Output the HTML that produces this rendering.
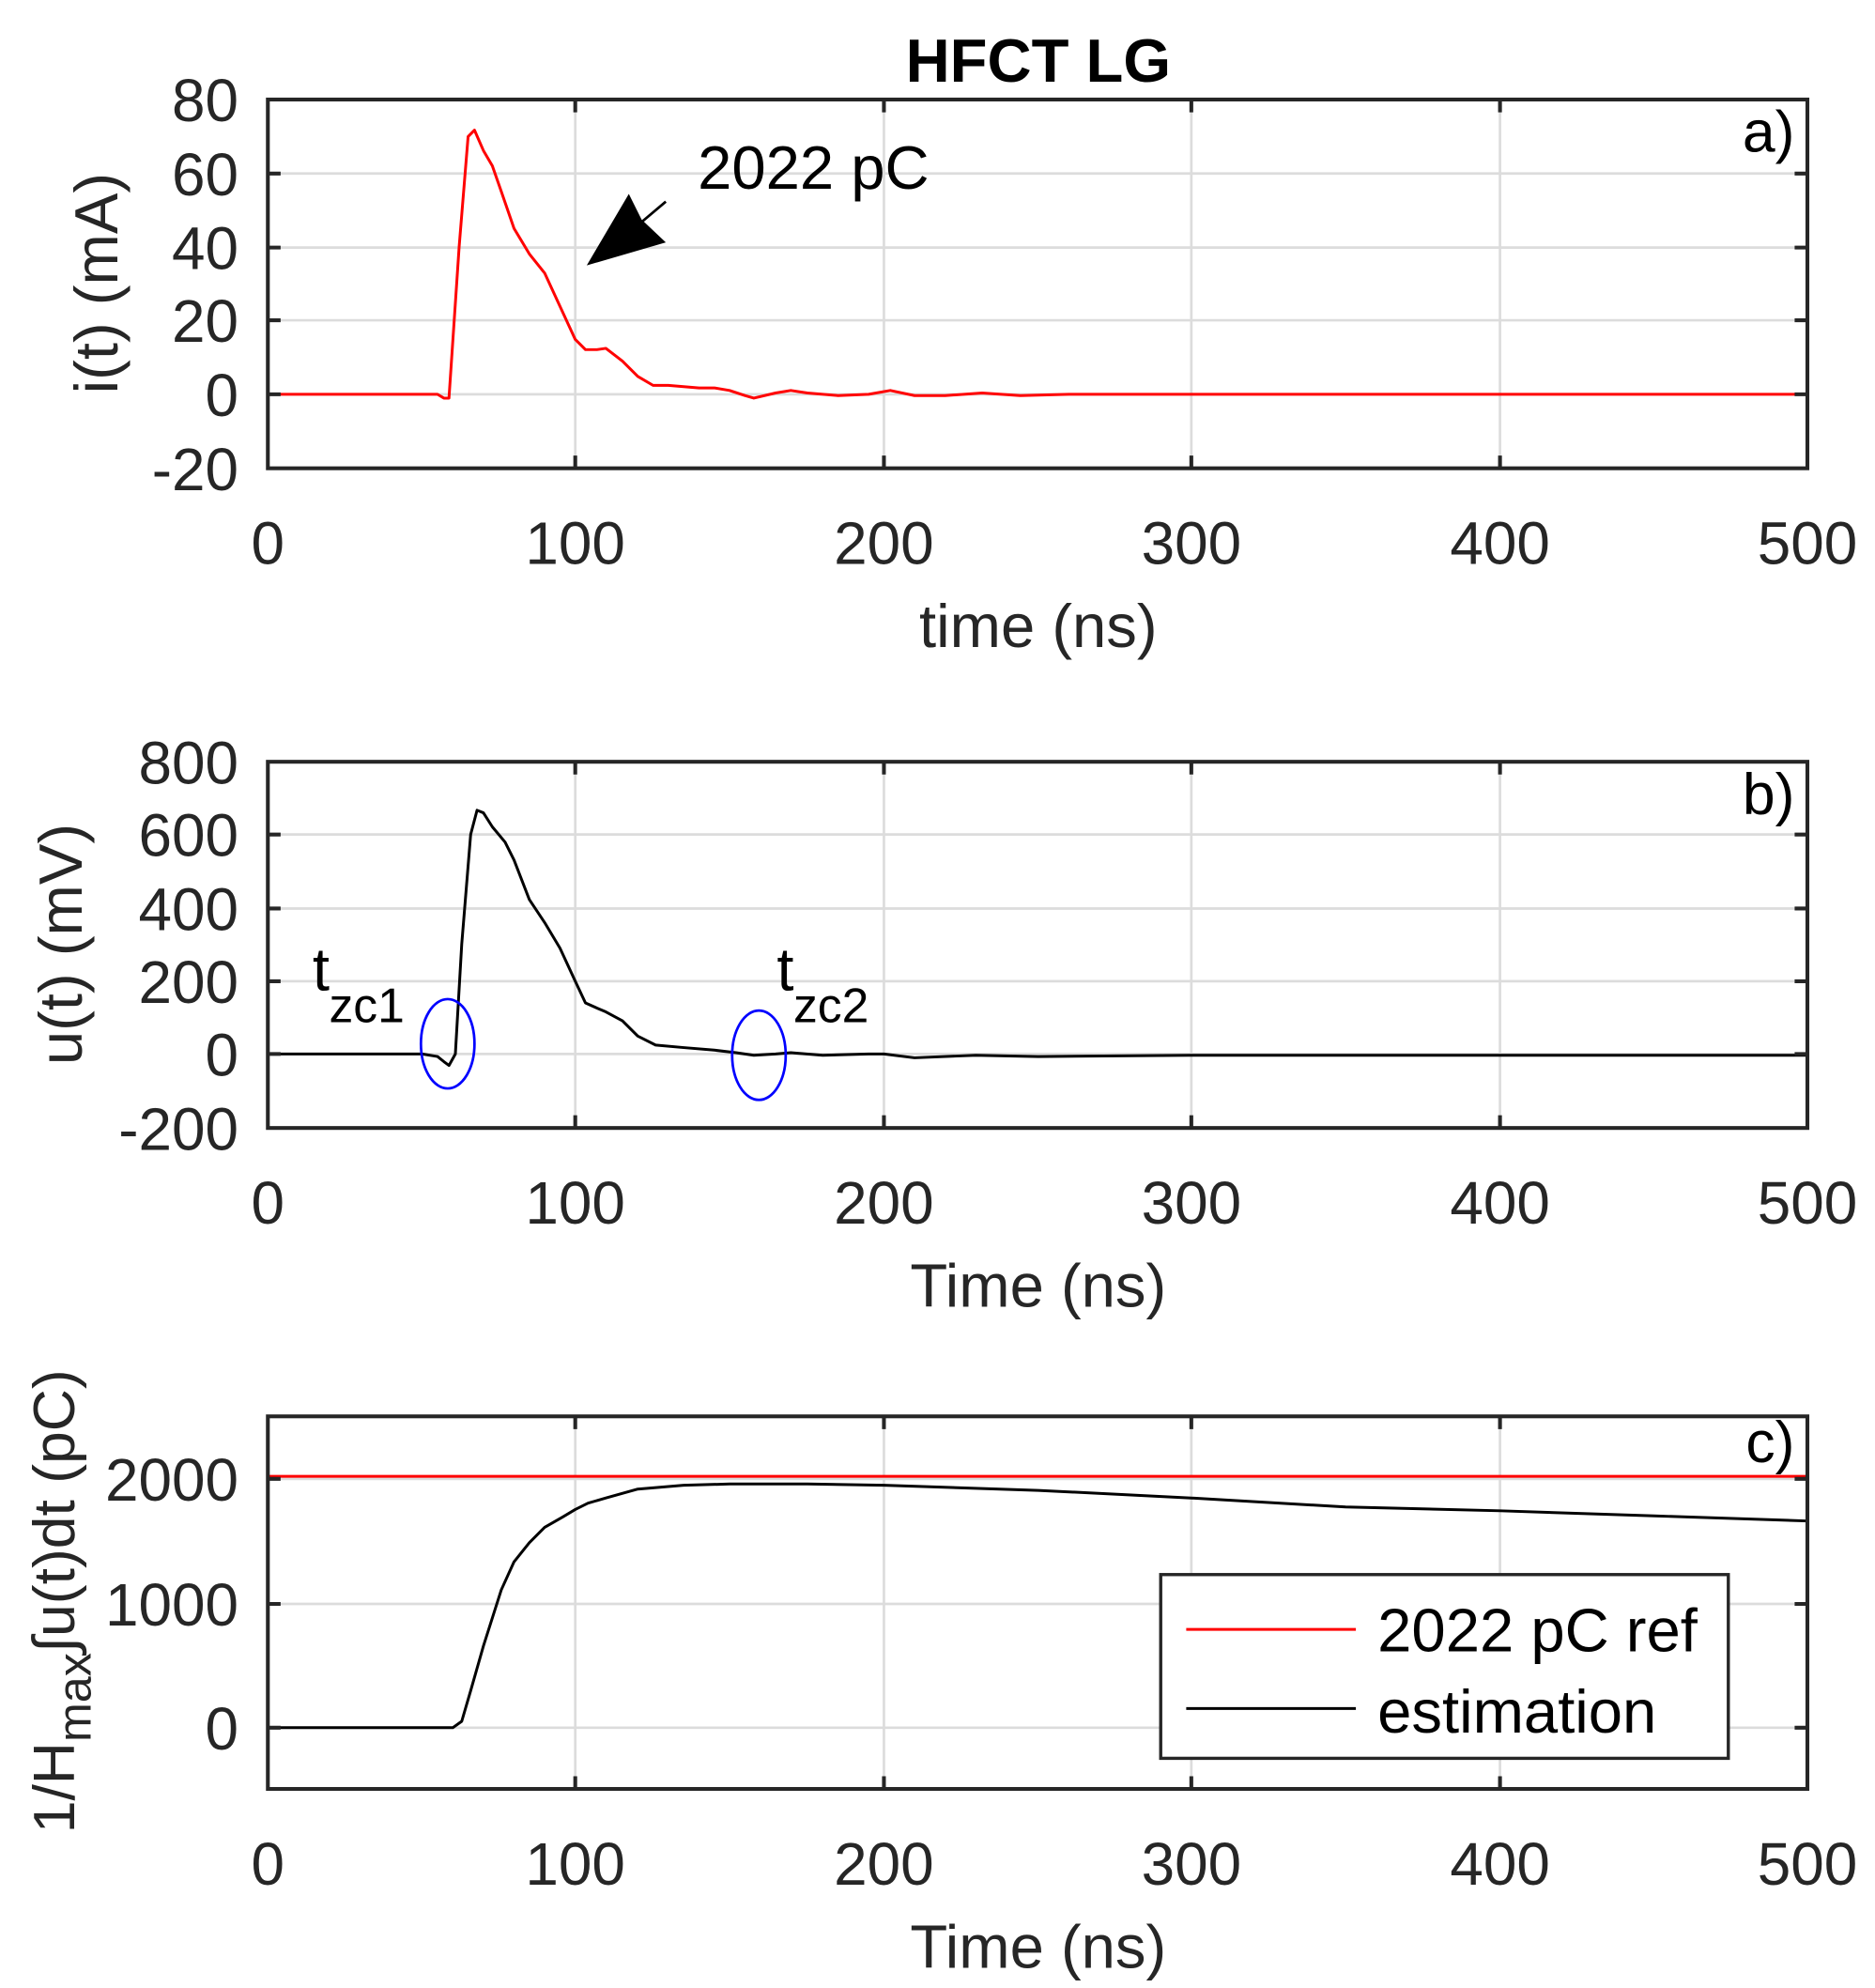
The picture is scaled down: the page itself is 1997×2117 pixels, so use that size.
<!DOCTYPE html>
<html><head><style>html,body{margin:0;padding:0;background:#fff}svg{display:block}</style></head>
<body>
<svg width="1997" height="2117" viewBox="0 0 1470 1558" preserveAspectRatio="none" xmlns="http://www.w3.org/2000/svg" font-family="Liberation Sans, Arial, sans-serif">
<rect width="1470" height="1558" fill="#fff"/>
<text x="814" y="64" font-size="48" font-weight="bold" text-anchor="middle">HFCT LG</text>

<!-- Plot a -->
<g stroke="#dcdcdc" stroke-width="2">
<line x1="451" y1="78" x2="451" y2="367"/><line x1="693" y1="78" x2="693" y2="367"/><line x1="934" y1="78" x2="934" y2="367"/><line x1="1176" y1="78" x2="1176" y2="367"/>
<line x1="210" y1="136" x2="1417" y2="136"/><line x1="210" y1="194" x2="1417" y2="194"/><line x1="210" y1="251" x2="1417" y2="251"/><line x1="210" y1="309" x2="1417" y2="309"/>
</g>
<polyline fill="none" stroke="#ff0000" stroke-width="2.2" stroke-linejoin="round" points="210,309 343,309 348,312 352,312 360,193 367,107 372,102 379,118 386,130 393,150 403,179 415,199 427,214 439,240 451,266 459,274 468,274 475,273 488,283 500,295 512,302 524,302 536,303 548,304 560,304 572,306 584,310 591,312 608,308 620,306 633,308 657,310 681,309 698,306 717,310 741,310 770,308 800,310 838,309 934,309 1417,309"/>
<g stroke="#262626" stroke-width="3" fill="none">
<rect x="210" y="78" width="1207" height="289"/>
<path d="M451,78v10M693,78v10M934,78v10M1176,78v10M451,367v-10M693,367v-10M934,367v-10M1176,367v-10M210,136h10M210,194h10M210,251h10M210,309h10M1417,136h-10M1417,194h-10M1417,251h-10M1417,309h-10"/>
</g>
<g font-size="47" text-anchor="end" fill="#262626">
<text x="187" y="95">80</text><text x="187" y="153">60</text><text x="187" y="211">40</text><text x="187" y="268">20</text><text x="187" y="326">0</text><text x="187" y="384">-20</text>
</g>
<g font-size="47" text-anchor="middle" fill="#262626">
<text x="210" y="442">0</text><text x="451" y="442">100</text><text x="693" y="442">200</text><text x="934" y="442">300</text><text x="1176" y="442">400</text><text x="1417" y="442">500</text>
</g>
<text x="814" y="507" font-size="48" text-anchor="middle" fill="#262626">time (ns)</text>
<text transform="translate(92,222) rotate(-90)" font-size="48" text-anchor="middle" fill="#262626">i(t) (mA)</text>
<text x="1407" y="119" font-size="46" text-anchor="end">a)</text>
<text x="547" y="148" font-size="48">2022 pC</text>
<line x1="522" y1="158" x2="490" y2="185" stroke="#000" stroke-width="2"/>
<polygon points="460,208 493,152 503,172 522,190" fill="#000"/>

<!-- Plot b -->
<g stroke="#dcdcdc" stroke-width="2">
<line x1="451" y1="597" x2="451" y2="884"/><line x1="693" y1="597" x2="693" y2="884"/><line x1="934" y1="597" x2="934" y2="884"/><line x1="1176" y1="597" x2="1176" y2="884"/>
<line x1="210" y1="654" x2="1417" y2="654"/><line x1="210" y1="712" x2="1417" y2="712"/><line x1="210" y1="769" x2="1417" y2="769"/><line x1="210" y1="826" x2="1417" y2="826"/>
</g>
<polyline fill="none" stroke="#000" stroke-width="2.2" stroke-linejoin="round" points="210,826 331,826 343,828 348,832 352,835 357,826 362,740 369,654 374,635 379,637 386,648 396,660 403,674 415,705 427,723 439,743 451,769 459,786 468,790 475,793 488,800 500,812 514,819 536,821 560,823 577,825 591,827 608,826 620,825 645,827 681,826 693,826 717,829 765,827 814,828 934,827 1417,827"/>
<g stroke="#262626" stroke-width="3" fill="none">
<rect x="210" y="597" width="1207" height="287"/>
<path d="M451,597v10M693,597v10M934,597v10M1176,597v10M451,884v-10M693,884v-10M934,884v-10M1176,884v-10M210,654h10M210,712h10M210,769h10M210,826h10M1417,654h-10M1417,712h-10M1417,769h-10M1417,826h-10"/>
</g>
<g font-size="47" text-anchor="end" fill="#262626">
<text x="187" y="614">800</text><text x="187" y="671">600</text><text x="187" y="729">400</text><text x="187" y="786">200</text><text x="187" y="843">0</text><text x="187" y="901">-200</text>
</g>
<g font-size="47" text-anchor="middle" fill="#262626">
<text x="210" y="959">0</text><text x="451" y="959">100</text><text x="693" y="959">200</text><text x="934" y="959">300</text><text x="1176" y="959">400</text><text x="1417" y="959">500</text>
</g>
<text x="814" y="1024" font-size="48" text-anchor="middle" fill="#262626">Time (ns)</text>
<text transform="translate(64,740) rotate(-90)" font-size="48" text-anchor="middle" fill="#262626">u(t) (mV)</text>
<text x="1407" y="638" font-size="46" text-anchor="end">b)</text>
<ellipse cx="351" cy="818" rx="21" ry="35" fill="none" stroke="#0000ff" stroke-width="2"/>
<ellipse cx="595" cy="827" rx="21" ry="35" fill="none" stroke="#0000ff" stroke-width="2"/>
<text x="245" y="776" font-size="48">t</text><text x="258" y="801" font-size="38">zc1</text>
<text x="609" y="776" font-size="48">t</text><text x="622" y="801" font-size="38">zc2</text>

<!-- Plot c -->
<g stroke="#dcdcdc" stroke-width="2">
<line x1="451" y1="1110" x2="451" y2="1402"/><line x1="693" y1="1110" x2="693" y2="1402"/><line x1="934" y1="1110" x2="934" y2="1402"/><line x1="1176" y1="1110" x2="1176" y2="1402"/>
<line x1="210" y1="1159" x2="1417" y2="1159"/><line x1="210" y1="1257" x2="1417" y2="1257"/><line x1="210" y1="1354" x2="1417" y2="1354"/>
</g>
<line x1="210" y1="1157" x2="1417" y2="1157" stroke="#ff0000" stroke-width="2.2"/>
<polyline fill="none" stroke="#000" stroke-width="2.2" stroke-linejoin="round" points="210,1354 350,1354 355,1354 362,1349 369,1325 379,1290 393,1246 403,1224 415,1209 427,1197 441,1189 451,1183 461,1178 475,1174 500,1167 536,1164 572,1163 633,1163 693,1164 814,1168 934,1174 1055,1181 1176,1184 1297,1188 1417,1192"/>
<g stroke="#262626" stroke-width="3" fill="none">
<rect x="210" y="1110" width="1207" height="292"/>
<path d="M451,1110v10M693,1110v10M934,1110v10M1176,1110v10M451,1402v-10M693,1402v-10M934,1402v-10M1176,1402v-10M210,1159h10M210,1257h10M210,1354h10M1417,1159h-10M1417,1257h-10M1417,1354h-10"/>
</g>
<g font-size="47" text-anchor="end" fill="#262626">
<text x="187" y="1176">2000</text><text x="187" y="1274">1000</text><text x="187" y="1371">0</text>
</g>
<g font-size="47" text-anchor="middle" fill="#262626">
<text x="210" y="1477">0</text><text x="451" y="1477">100</text><text x="693" y="1477">200</text><text x="934" y="1477">300</text><text x="1176" y="1477">400</text><text x="1417" y="1477">500</text>
</g>
<text x="814" y="1542" font-size="48" text-anchor="middle" fill="#262626">Time (ns)</text>
<text transform="translate(58,1255) rotate(-90)" font-size="46" text-anchor="middle" fill="#262626">1/H<tspan font-size="37" dy="13">max</tspan><tspan dy="-13">∫u(t)dt (pC)</tspan></text>
<text x="1407" y="1146" font-size="46" text-anchor="end">c)</text>
<rect x="910" y="1234" width="445" height="144" fill="#fff" stroke="#262626" stroke-width="2.5"/>
<line x1="930" y1="1277" x2="1063" y2="1277" stroke="#ff0000" stroke-width="2.2"/>
<line x1="930" y1="1339" x2="1063" y2="1339" stroke="#000" stroke-width="2.2"/>
<text x="1080" y="1294" font-size="48">2022 pC ref</text>
<text x="1080" y="1358" font-size="48">estimation</text>
</svg>
</body></html>
